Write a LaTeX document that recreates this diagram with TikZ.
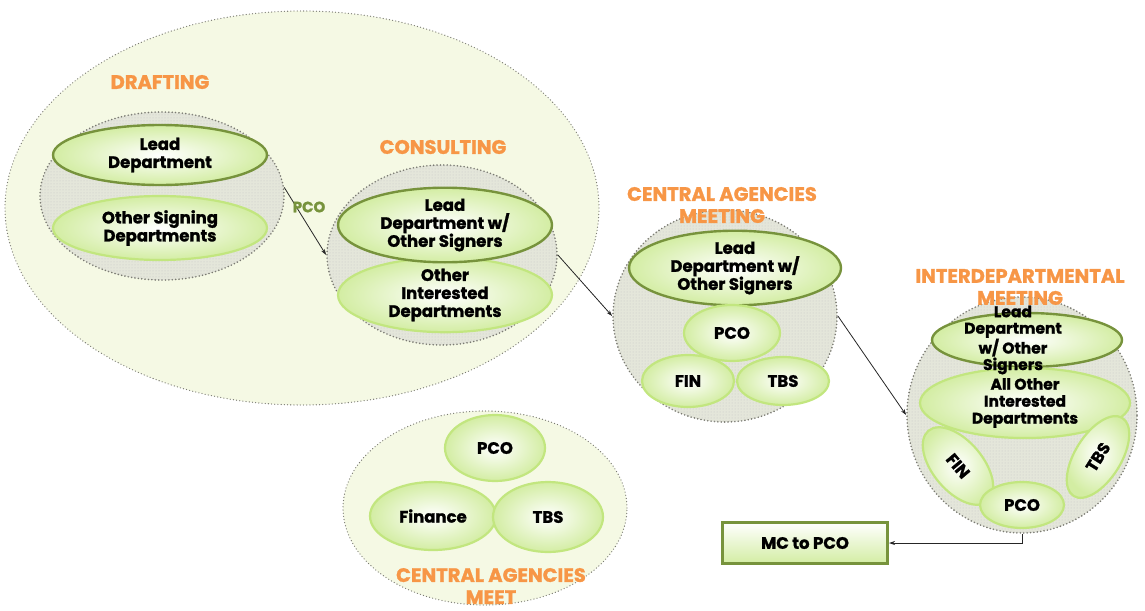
\documentclass[tikz,border=0pt]{standalone}
\usepackage{fontspec}
\setmainfont{Poppins}[BoldFeatures={FakeBold=1.3}]
\usetikzlibrary{shapes.geometric,arrows.meta,patterns}
\definecolor{orangeL}{HTML}{F79646}
\definecolor{darkG}{HTML}{77933C}
\definecolor{lightG}{HTML}{C2E67F}
\definecolor{fillG}{HTML}{D3EDA3}
\definecolor{bigfill}{HTML}{F5F9E4}
\definecolor{dotgray}{HTML}{7A7A72}
\definecolor{stagefill}{HTML}{E4E6DA}
\tikzset{
  outer/.style={ellipse, draw=dotgray, line width=1.3pt, dash pattern=on 0pt off 3.2pt, line cap=round, fill=bigfill, inner sep=0pt},
  stage/.style={ellipse, draw=dotgray, line width=1.8pt, dash pattern=on 0pt off 3.4pt, line cap=round, fill=stagefill, postaction={pattern=dots, pattern color=gray!45}, inner sep=0pt},
  txt/.style={font=\bfseries\fontsize{16.5}{18}\selectfont, align=center, text=black},
  leadE/.style={ellipse, draw=darkG, line width=2.4pt, inner color=white, outer color=fillG, inner sep=0pt, txt},
  otherE/.style={ellipse, draw=lightG, line width=2.2pt, inner color=white, outer color=fillG, inner sep=0pt, txt},
  lbl/.style={text=orangeL, font=\bfseries\fontsize{19.5}{22}\selectfont, align=center, inner sep=0pt},
  arr/.style={draw=black!85, line width=0.8pt, -{Stealth[length=6pt,width=4pt]}},
}
\begin{document}
\begin{tikzpicture}[x=1pt,y=-1pt]
\useasboundingbox (0,0) rectangle (1145,610);
% outer drafting/consulting area
\node[outer, minimum width=594pt, minimum height=394pt] (outer) at (302,208) {};
% Drafting
\node[stage, minimum width=244pt, minimum height=168pt] (draft) at (162,196) {};
\node[leadE, minimum width=214pt, minimum height=60pt] (leadA) at (160,155) {Lead\\Department};
\node[otherE, minimum width=214pt, minimum height=64pt] (otherA) at (160,228) {Other Signing\\Departments};
\node[lbl] (labA) at (160,82) {DRAFTING};
% Consulting
\node[stage, minimum width=230pt, minimum height=180pt] (consult) at (442,255) {};
\node[otherE, minimum width=214pt, minimum height=66pt] (otherB) at (445,295) {Other\\Interested\\Departments};
\node[leadE, minimum width=214pt, minimum height=66pt] (leadB) at (445,225) {Lead\\Department w/\\Other Signers};
\node[lbl] (labB) at (443,147) {CONSULTING};
% Central agencies meeting
\node[stage, minimum width=224pt, minimum height=212pt] (central) at (725,316) {};
\node[leadE, minimum width=212pt, minimum height=60pt] (leadC) at (735,268) {Lead\\Department w/\\Other Signers};
\node[otherE, minimum width=96pt, minimum height=56pt] (pcoC) at (732,333) {PCO};
\node[otherE, minimum width=92pt, minimum height=52pt] (finC) at (688,381) {FIN};
\node[otherE, minimum width=92pt, minimum height=48pt] (tbsC) at (783,381) {TBS};
\node[lbl] (labC) at (722,205) {CENTRAL AGENCIES\\MEETING};
% Interdepartmental meeting
\node[stage, minimum width=230pt, minimum height=236pt] (inter) at (1022,415) {};
\node[leadE, minimum width=190pt, minimum height=54pt] (leadD) at (1027,340) {};
\node[otherE, minimum width=210pt, minimum height=56pt, font=\bfseries\fontsize{15.5}{17}\selectfont] (allD) at (1025,403) {All Other\\Interested\\Departments};
\node[otherE, minimum width=92pt, minimum height=50pt, rotate=-50] (finD) at (958,466) {FIN};
\node[otherE, minimum width=92pt, minimum height=46pt, rotate=58] (tbsD) at (1098,457) {TBS};
\node[otherE, minimum width=84pt, minimum height=46pt] (pcoD) at (1022,505) {PCO};
\node[txt, font=\bfseries\fontsize{15.5}{16.5}\selectfont] (leadDt) at (1013,340) {Lead\\Department\\w/ Other\\Signers};
\node[lbl] (labD) at (1020,287) {INTERDEPARTMENTAL\\MEETING};
% MC to PCO
\node[draw=darkG, line width=3pt, top color=white, bottom color=fillG, minimum width=165pt, minimum height=41pt, txt] (mc) at (805,543) {MC to PCO};
% Central agencies meet
\node[outer, minimum width=284pt, minimum height=194pt] (cam) at (485,508) {};
\node[otherE, minimum width=100pt, minimum height=66pt] (pcoE) at (495,448) {PCO};
\node[otherE, minimum width=126pt, minimum height=68pt] (finE) at (433,516) {Finance};
\node[otherE, minimum width=110pt, minimum height=70pt] (tbsE) at (548,517) {TBS};
\node[lbl] (labE) at (491,586) {CENTRAL AGENCIES\\MEET};
% connectors
\draw[arr] (draft.4) -- (consult.west);
\node[font=\bfseries\fontsize{15}{15}\selectfont, text=darkG, inner sep=0pt] (pcolab) at (309,207) {PCO};
\draw[arr] (consult.east) -- (central.west);
\draw[arr] (central.east) -- (inter.west);
\draw[arr] (inter.south) |- (mc.east);
\end{tikzpicture}
\end{document}
